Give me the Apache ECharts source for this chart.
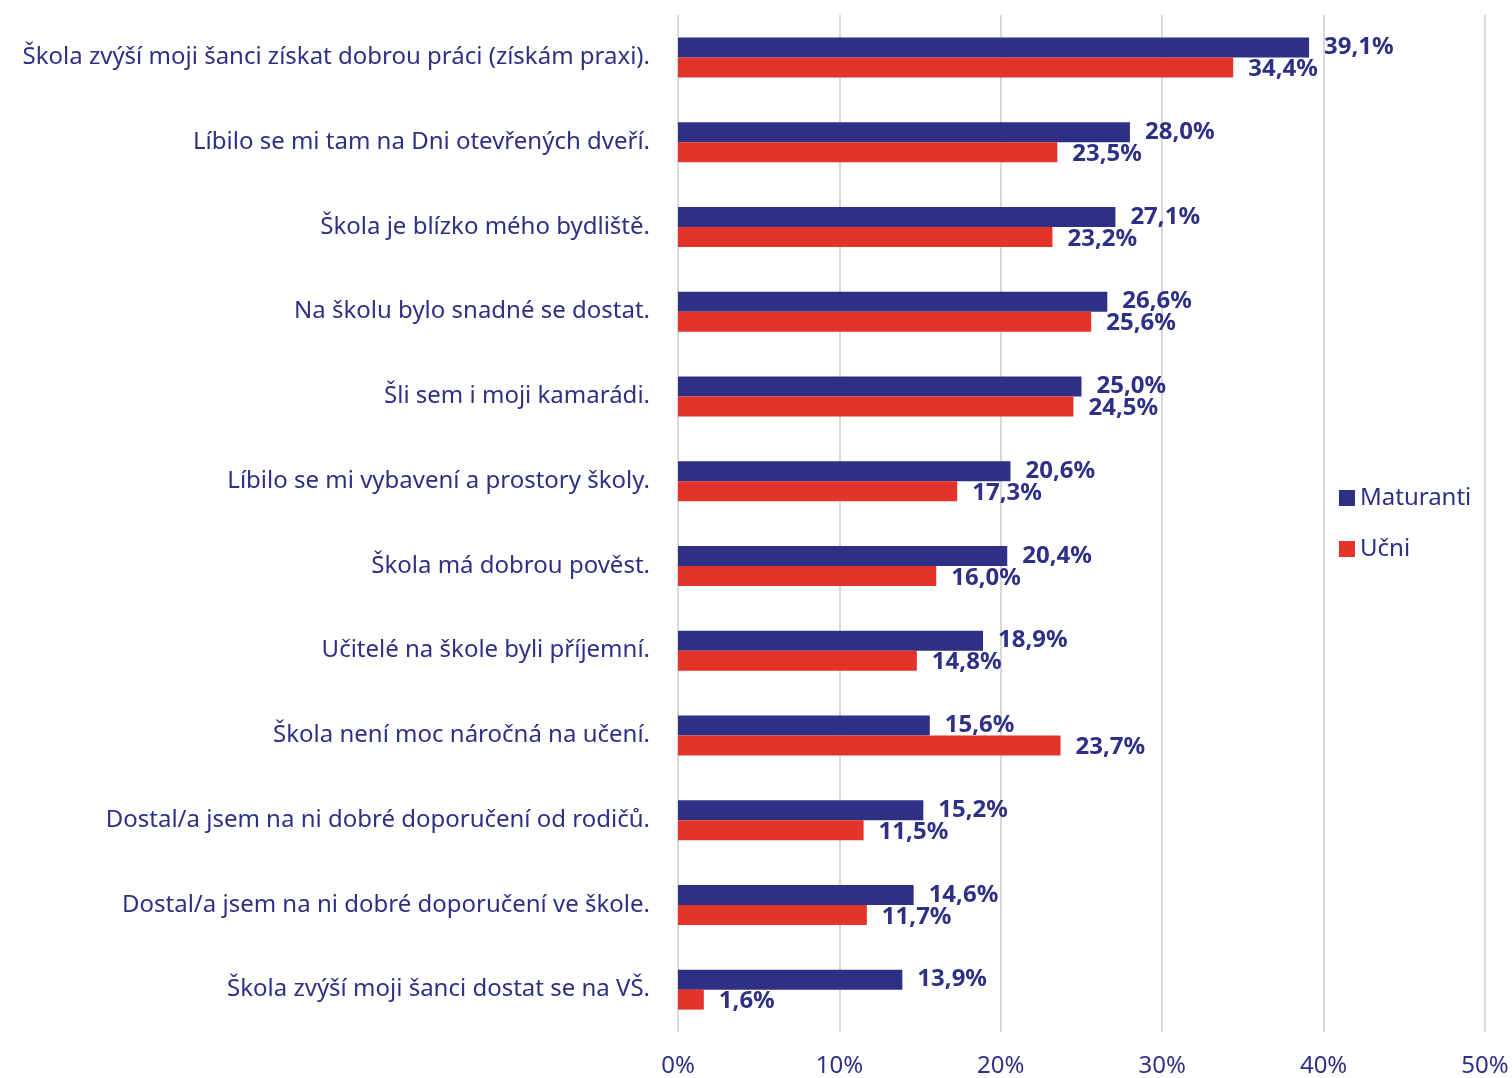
<!DOCTYPE html>
<html><head><meta charset="utf-8">
<script src="https://cdn.jsdelivr.net/npm/echarts@6/dist/echarts.min.js"></script>
<style>html,body{margin:0;padding:0;background:#fff}#c{width:1512px;height:1078px}</style>
</head><body><div id="c"></div>
<script>
const categories = [
  "Škola zvýší moji šanci získat dobrou práci (získám praxi).",
  "Líbilo se mi tam na Dni otevřených dveří.",
  "Škola je blízko mého bydliště.",
  "Na školu bylo snadné se dostat.",
  "Šli sem i moji kamarádi.",
  "Líbilo se mi vybavení a prostory školy.",
  "Škola má dobrou pověst.",
  "Učitelé na škole byli příjemní.",
  "Škola není moc náročná na učení.",
  "Dostal/a jsem na ni dobré doporučení od rodičů.",
  "Dostal/a jsem na ni dobré doporučení ve škole.",
  "Škola zvýší moji šanci dostat se na VŠ."
];
const maturanti = [39.1, 28.0, 27.1, 26.6, 25.0, 20.6, 20.4, 18.9, 15.6, 15.2, 14.6, 13.9];
const ucni = [34.4, 23.5, 23.2, 25.6, 24.5, 17.3, 16.0, 14.8, 23.7, 11.5, 11.7, 1.6];
const xTicks = [0, 10, 20, 30, 40, 50];

const NAVY = '#2e3085', RED = '#e3342b';
const FONT = 'Noto Sans';
const fmt = v => v.toFixed(1).replace('.', ',') + '%';
const chart = echarts.init(document.getElementById('c'));
const lbl = (dy) => ({show: true, position: 'right', distance: 15, offset: [0, dy], color: NAVY, fontFamily: FONT, fontWeight: 'bold', fontSize: 24,
  formatter: p => fmt(p.value)});
chart.setOption({
  animation: false,
  textStyle: {fontFamily: FONT},
  grid: {left: 678, right: 27, top: 15, bottom: 43, containLabel: false},
  legend: {orient: 'vertical', left: 1334, top: 481, itemWidth: 16, itemHeight: 16, itemGap: 27, icon: 'rect',
    textStyle: {color: NAVY, fontSize: 24, fontFamily: FONT, padding: [0, 0, 0, 0]}, data: ['Maturanti', 'Učni']},
  xAxis: {type: 'value', min: xTicks[0], max: xTicks[xTicks.length - 1], interval: 10,
    axisLine: {show: false}, axisTick: {show: false},
    splitLine: {lineStyle: {color: '#d9d9d9', width: 2}},
    axisLabel: {color: NAVY, fontSize: 24, fontFamily: FONT, margin: 22, formatter: v => v + '%'}},
  yAxis: {type: 'category', data: categories, inverse: true,
    axisLine: {show: false}, axisTick: {show: false},
    axisLabel: {color: NAVY, fontSize: 24, fontFamily: FONT, margin: 28, padding: [4, 0, 0, 0]}},
  series: [
    {name: 'Maturanti', type: 'bar', data: maturanti, barWidth: 20, barGap: '0%', itemStyle: {color: NAVY}, label: lbl(0)},
    {name: 'Učni', type: 'bar', data: ucni, barWidth: 20, barGap: '0%', itemStyle: {color: RED}, label: lbl(2)}
  ]
});
</script></body></html>
